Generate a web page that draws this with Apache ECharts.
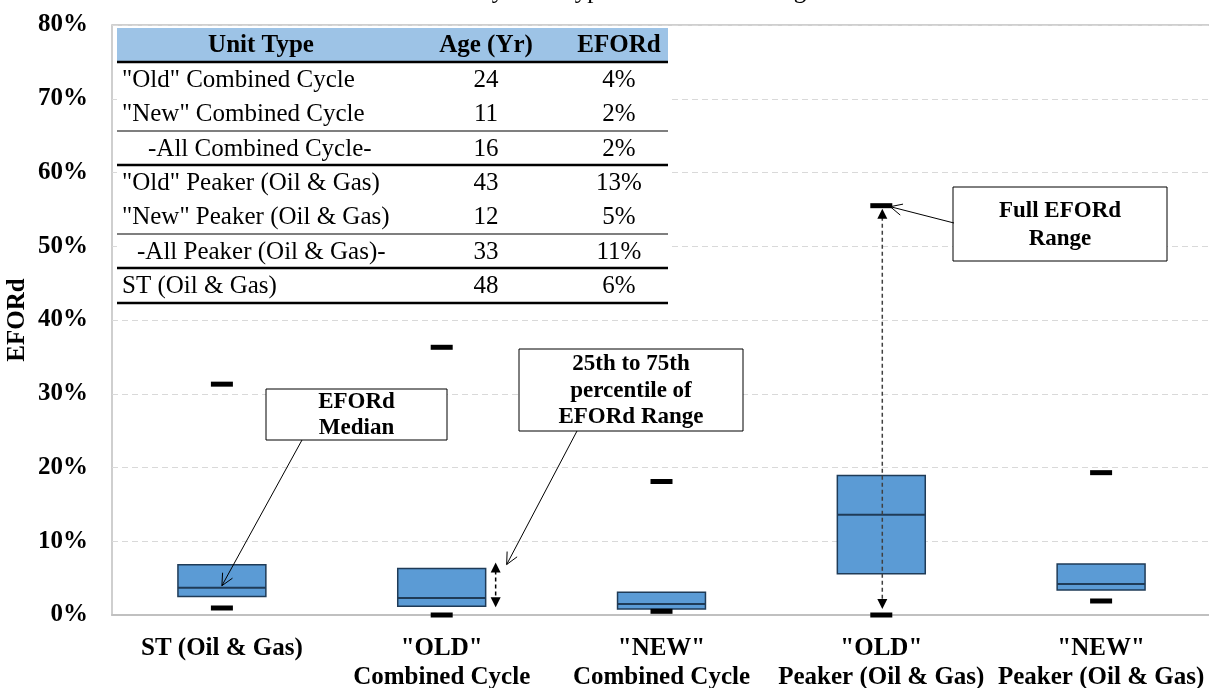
<!DOCTYPE html>
<html>
<head>
<meta charset="utf-8">
<script src="https://cdn.jsdelivr.net/npm/echarts@6/dist/echarts.min.js"></script>
<style>html,body{margin:0;padding:0;background:#fff;}#main{width:1209px;height:688px;}</style>
</head>
<body>
<div id="main"></div>
<script>
// ---- data ----
const categories = ['ST (Oil & Gas)', '"OLD"\nCombined Cycle', '"NEW"\nCombined Cycle', '"OLD"\nPeaker (Oil & Gas)', '"NEW"\nPeaker (Oil & Gas)'];
const q1Values     = [0.025, 0.012, 0.008, 0.056, 0.034];
const medianValues = [0.037, 0.023, 0.015, 0.136, 0.042];
const q3Values     = [0.068, 0.063, 0.031, 0.189, 0.069];
const minValues    = [0.0095, 0.0, 0.005, 0.0, 0.019];
const maxValues    = [0.313, 0.363, 0.181, 0.555, 0.193];

const tableHeader  = ['Unit Type', 'Age (Yr)', 'EFORd'];
const tableUnits   = ['"Old" Combined Cycle', '"New" Combined Cycle', '-All Combined Cycle-', '"Old" Peaker (Oil & Gas)', '"New" Peaker (Oil & Gas)', '-All Peaker (Oil & Gas)-', 'ST (Oil & Gas)'];
const tableAges    = [24, 11, 16, 43, 12, 33, 48];
const tableEford   = ['4%', '2%', '2%', '13%', '5%', '11%', '6%'];

const titleText = 'EFORd by Unit Type - Five Year Average';

const FONT = '"Liberation Serif", "Times New Roman", serif';
const chart = echarts.init(document.getElementById('main'));

function renderBox(params, api) {
  const x = api.value(0);
  const lo = api.coord([x, api.value(1)]);
  const med = api.coord([x, api.value(2)]);
  const hi = api.coord([x, api.value(3)]);
  const w = api.size([1, 0])[0] * 0.4;
  return {
    type: 'group',
    children: [
      { type: 'rect', shape: { x: lo[0] - w / 2, y: hi[1], width: w, height: lo[1] - hi[1] },
        style: { fill: '#5B9BD5', stroke: '#1F3B57', lineWidth: 1.5 } },
      { type: 'line', shape: { x1: lo[0] - w / 2, y1: med[1], x2: lo[0] + w / 2, y2: med[1] },
        style: { stroke: '#1F3B57', lineWidth: 2 } }
    ]
  };
}

const boxData = categories.map((c, i) => [i, q1Values[i], medianValues[i], q3Values[i]]);
const maxData = categories.map((c, i) => [i, maxValues[i]]);
const minData = categories.map((c, i) => [i, minValues[i]]);

chart.setOption({
  animation: false,
  backgroundColor: '#fff',
  grid: { left: 112, right: -2, top: 25, bottom: 73, show: true, borderColor: '#c0c0c0', borderWidth: 1.5,
          outerBoundsMode: 'none', containLabel: false },
  xAxis: {
    type: 'category',
    data: categories,
    axisLine: { lineStyle: { color: '#c0c0c0', width: 2 } },
    axisTick: { show: false },
    axisLabel: { interval: 0, color: '#000', fontFamily: FONT, fontWeight: 'bold', fontSize: 25, lineHeight: 29, margin: 19, verticalAlign: 'top' }
  },
  yAxis: {
    type: 'value', min: 0, max: 0.8, interval: 0.1,
    name: 'EFORd', nameLocation: 'middle', nameGap: 82, nameRotate: 90, nameMoveOverlap: false,
    nameTextStyle: { color: '#000', fontFamily: FONT, fontWeight: 'bold', fontSize: 25 },
    axisLine: { show: false }, axisTick: { show: false },
    axisLabel: { color: '#000', fontFamily: FONT, fontWeight: 'bold', fontSize: 25, margin: 24,
      formatter: v => Math.round(v * 100) + '%' },
    splitLine: { lineStyle: { color: '#d9d9d9', type: [6, 4], width: 1 } }
  },
  series: [
    { type: 'custom', renderItem: renderBox, data: boxData, z: 3, encode: { x: 0, y: [1, 2, 3] } },
    { type: 'scatter', data: maxData, symbol: 'rect', symbolSize: [22, 5], itemStyle: { color: '#000', opacity: 1 }, z: 5 },
    { type: 'scatter', data: minData, symbol: 'rect', symbolSize: [22, 5], itemStyle: { color: '#000', opacity: 1 }, z: 5 }
  ]
});

// ---- overlays: table, annotations ----
const g = [];
const px = (i, v) => chart.convertToPixel({ seriesIndex: 0 }, [i, v]);
const bandW = chart.convertToPixel({ xAxisIndex: 0 }, 1) - chart.convertToPixel({ xAxisIndex: 0 }, 0);
const boxHalf = bandW * 0.2;

// title (cut off at the top edge)
g.push({ type: 'text', x: 607, y: 4, z: 50, style: { text: titleText, font: '25px ' + FONT, fill: '#000', align: 'center', verticalAlign: 'bottom' } });

// table
const tL = 117, tR = 668, tTop = 27;
const rowEdges = [27, 62, 96.5, 131, 165, 199.5, 234, 268, 303];
g.push({ type: 'rect', z: 20, shape: { x: tL, y: tTop, width: tR - tL, height: rowEdges[8] - tTop }, style: { fill: '#fff' } });
g.push({ type: 'rect', z: 21, shape: { x: tL, y: 28, width: tR - tL, height: rowEdges[1] - 28 }, style: { fill: '#9DC3E6' } });
const colC = [261, 486, 619];
tableHeader.forEach((h, j) => {
  g.push({ type: 'text', z: 22, x: colC[j], y: (rowEdges[0] + rowEdges[1]) / 2 + 1,
    style: { text: h, font: 'bold 25px ' + FONT, fill: '#000', align: 'center', verticalAlign: 'middle' } });
});
const indents = [122, 122, 148, 122, 122, 137, 122];
tableUnits.forEach((u, i) => {
  const yc = (rowEdges[i + 1] + rowEdges[i + 2]) / 2 + 1;
  g.push({ type: 'text', z: 22, x: indents[i], y: yc, style: { text: u, font: '25px ' + FONT, fill: '#000', align: 'left', verticalAlign: 'middle' } });
  g.push({ type: 'text', z: 22, x: colC[1], y: yc, style: { text: String(tableAges[i]), font: '25px ' + FONT, fill: '#000', align: 'center', verticalAlign: 'middle' } });
  g.push({ type: 'text', z: 22, x: colC[2], y: yc, style: { text: tableEford[i], font: '25px ' + FONT, fill: '#000', align: 'center', verticalAlign: 'middle' } });
});
const lineW = { 1: 2.5, 3: 1.2, 4: 2.5, 6: 1.2, 7: 2.5, 8: 2.5 };
Object.keys(lineW).forEach(k => {
  g.push({ type: 'line', z: 23, shape: { x1: tL, y1: rowEdges[k], x2: tR, y2: rowEdges[k] }, style: { stroke: '#000', lineWidth: lineW[k] } });
});

// helpers
function openArrow(x1, y1, x2, y2) {
  const a = Math.atan2(y2 - y1, x2 - x1), L = 13, s = 0.45;
  g.push({ type: 'line', z: 30, shape: { x1, y1, x2, y2 }, style: { stroke: '#000', lineWidth: 1 } });
  g.push({ type: 'polyline', z: 30, shape: { points: [
    [x2 - L * Math.cos(a - s), y2 - L * Math.sin(a - s)], [x2, y2], [x2 - L * Math.cos(a + s), y2 - L * Math.sin(a + s)]] },
    style: { stroke: '#000', lineWidth: 1, fill: null } });
}
function dblArrow(x, yTop, yBot, color) {
  g.push({ type: 'line', z: 30, shape: { x1: x, y1: yTop + 8, x2: x, y2: yBot - 8 }, style: { stroke: color, lineWidth: 1.5, lineDash: [4, 3] } });
  g.push({ type: 'polygon', z: 30, shape: { points: [[x, yTop], [x - 5, yTop + 10], [x + 5, yTop + 10]] }, style: { fill: '#000' } });
  g.push({ type: 'polygon', z: 30, shape: { points: [[x, yBot], [x - 5, yBot - 10], [x + 5, yBot - 10]] }, style: { fill: '#000' } });
}
function noteBox(x, y, w, h, text, lh) {
  g.push({ type: 'rect', z: 29, shape: { x, y, width: w, height: h }, style: { fill: '#fff', stroke: '#000', lineWidth: 1 } });
  g.push({ type: 'text', z: 31, x: x + w / 2, y: y + h / 2 + 1, style: { text, font: 'bold 23px ' + FONT, fill: '#000', align: 'center', verticalAlign: 'middle', lineHeight: lh } });
}

// EFORd median annotation
const stMed = px(0, medianValues[0]);
noteBox(266, 389, 181, 51, 'EFORd\nMedian', 26);
openArrow(302, 440, stMed[0], stMed[1] - 2);

// 25th-75th annotation
const ccQ3 = px(1, q3Values[1]), ccQ1 = px(1, q1Values[1]);
const daX = ccQ3[0] + boxHalf + 10;
dblArrow(daX, ccQ3[1] - 6, ccQ1[1] + 1, '#000');
noteBox(519, 349, 224, 82, '25th to 75th\npercentile of\nEFORd Range', 26.5);
openArrow(577, 431, daX + 11, ccQ3[1] - 4);

// Full range annotation
const pkMax = px(3, maxValues[3]), pkMin = px(3, minValues[3]);
dblArrow(pkMax[0] + 1, pkMax[1] + 3, pkMin[1] - 6, '#404040');
noteBox(953, 187, 214, 74, 'Full EFORd\nRange', 28);
openArrow(954, 223, pkMax[0] + 9, pkMax[1] + 1);

chart.setOption({ graphic: g });
</script>
</body>
</html>
